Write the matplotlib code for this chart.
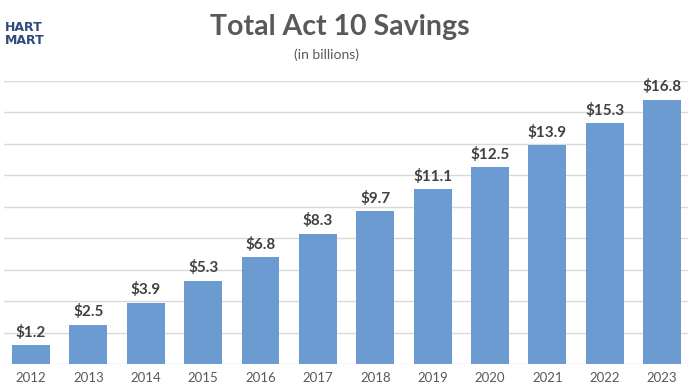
import matplotlib.pyplot as plt

years = ["2012", "2013", "2014", "2015", "2016", "2017",
         "2018", "2019", "2020", "2021", "2022", "2023"]
savings = [1.2, 2.5, 3.9, 5.3, 6.8, 8.3, 9.7, 11.1, 12.5, 13.9, 15.3, 16.8]
value_labels = ["$1.2", "$2.5", "$3.9", "$5.3", "$6.8", "$8.3",
                "$9.7", "$11.1", "$12.5", "$13.9", "$15.3", "$16.8"]

plt.rcParams['font.family'] = ['Lato', 'DejaVu Sans']

fig = plt.figure(figsize=(6.96, 3.92), dpi=100)
ax = fig.add_axes([4 / 696, (392 - 364) / 392, 684 / 696, (364 - 81) / 392])

x = list(range(len(years)))
bars = ax.bar(x, savings, width=0.66, color='#6b9bd1', zorder=3)

# etiquetas de valor acima das barras
for b, lab in zip(bars, value_labels):
    ax.text(b.get_x() + b.get_width() / 2, b.get_height() + 0.35, lab,
            ha='center', va='bottom', fontsize=11, fontweight='bold',
            color='#404040')

ax.set_ylim(0, 18)
ax.set_yticks(range(0, 19, 2))
ax.set_xlim(-0.47, 11.45)
ax.set_xticks(x)
ax.set_xticklabels(years, fontsize=9.5, color='#595959')
ax.tick_params(axis='x', length=0, pad=6)
ax.tick_params(axis='y', length=0, labelleft=False)
ax.grid(axis='y', color='#d9d9d9', linewidth=1, zorder=0)
for s in ax.spines.values():
    s.set_visible(False)

fig.text(340 / 696, 1 - 27 / 392, "Total Act 10 Savings", ha='center', va='center',
         fontsize=20.5, fontweight='bold', color='#595959')
fig.text(327 / 696, 1 - 55 / 392, "(in billions)", ha='center', va='center',
         fontsize=10, color='#595959')
fig.text(5 / 696, 1 - 34 / 392, "HART\nMART", ha='left', va='center',
         fontsize=9, fontweight='bold', color='#2e4a78', linespacing=0.95,
         family=['Liberation Sans Narrow', 'DejaVu Sans'])

fig.savefig('out.png', dpi=100)
